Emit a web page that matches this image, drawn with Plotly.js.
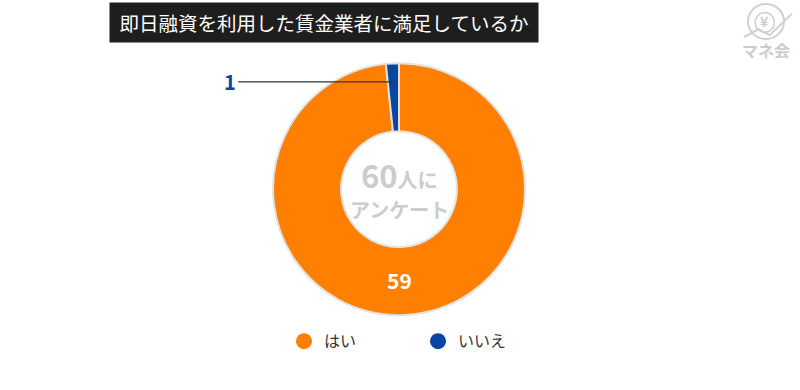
<!DOCTYPE html>
<html><head><meta charset="utf-8">
<script src="https://cdn.plot.ly/plotly-3.0.1.min.js"></script>
<style>html,body{margin:0;padding:0;background:#fff}#chart{width:800px;height:390px}</style>
</head><body><div id="chart"></div>
<script>
const titleText = '即日融資を利用した賃金業者に満足しているか';
const categories = ['はい', 'いいえ'];
const values = [59, 1];
const colors = ['#ff7f00', '#0b45a3'];
const totalLabel = '60';
const F = '"Noto Sans CJK JP", "Noto Sans", sans-serif';

const pie = {
  type: 'pie', labels: categories, values: values, sort: false, direction: 'clockwise', rotation: 0,
  hole: 0.46, textinfo: 'none', showlegend: false, hoverinfo: 'label+value',
  marker: {colors: colors, line: {color: '#e2e2e2', width: 2}},
  domain: {x: [0.25, 0.7475], y: [0.192, 0.838]}
};
const legendTraces = categories.map((c, i) => ({
  type: 'scatter', mode: 'markers', x: [null], y: [null], name: c, showlegend: true,
  marker: {color: colors[i], size: 22, symbol: 'circle'}, hoverinfo: 'skip'
}));

const layout = {
  width: 800, height: 390, margin: {l: 0, r: 0, t: 0, b: 0},
  paper_bgcolor: '#fff', plot_bgcolor: '#fff',
  font: {family: F, color: '#333'},
  xaxis: {visible: false}, yaxis: {visible: false},
  showlegend: true,
  legend: {orientation: 'h', x: 0.355, xanchor: 'left', y: 0.125, yanchor: 'middle',
    font: {size: 16, color: '#333', family: F}, entrywidth: 89, entrywidthmode: 'pixels',
    itemsizing: 'trace', bgcolor: 'rgba(0,0,0,0)'},
  annotations: [
    {text: titleText, x: 0.405, y: 0.9423, xref: 'paper', yref: 'paper', xanchor: 'center', yanchor: 'middle',
     showarrow: false, font: {size: 19.5, color: '#fff', family: F}, bgcolor: '#1e1e1e', borderpad: 0,
     width: 428, height: 39},
    {text: '<b><span style="font-size:31px">' + totalLabel + '</span>人に</b>',
     x: 0.49875, y: 0.552, xref: 'paper', yref: 'paper', xanchor: 'center', yanchor: 'middle', showarrow: false,
     font: {size: 20, color: '#cccccc', family: F}},
    {text: '<b>アンケート</b>',
     x: 0.49875, y: 0.462, xref: 'paper', yref: 'paper', xanchor: 'center', yanchor: 'middle', showarrow: false,
     font: {size: 20, color: '#cccccc', family: F}},
    {text: '<b>' + values[0] + '</b>', x: 0.49875, y: 0.282, xref: 'paper', yref: 'paper',
     xanchor: 'center', yanchor: 'middle', showarrow: false,
     font: {size: 21, color: '#fff', family: F}},
    {text: '<b>' + values[1] + '</b>', x: 0.4915, y: 0.79, xref: 'paper', yref: 'paper',
     showarrow: true, arrowhead: 0, arrowwidth: 1.3, arrowcolor: '#333', ax: -155, ay: 0,
     xanchor: 'right', yanchor: 'middle', font: {size: 20, color: '#0b45a3', family: F}},
    {text: '<b>マネ会</b>', x: 0.9575, y: 0.872, xref: 'paper', yref: 'paper', xanchor: 'center', yanchor: 'middle',
     showarrow: false, font: {size: 16, color: '#cccccc', family: F}},
    {text: '<b>¥</b>', x: 0.956, y: 0.945, xref: 'paper', yref: 'paper', xanchor: 'center', yanchor: 'middle',
     showarrow: false, font: {size: 14, color: '#cccccc', family: F}}
  ],
  shapes: [
    {type: 'circle', xref: 'paper', yref: 'paper', x0: 0.935, x1: 0.98, y0: 0.9, y1: 0.99,
     line: {color: '#d0d0d0', width: 2}},
    {type: 'circle', xref: 'paper', yref: 'paper', x0: 0.944, x1: 0.968, y0: 0.917, y1: 0.968,
     line: {color: '#d0d0d0', width: 1.5}},
    {type: 'path', xref: 'paper', yref: 'paper', path: 'M 0.93 0.905 L 0.948 0.925 L 0.962 0.91 L 0.99 0.965',
     line: {color: '#d0d0d0', width: 2}, fillcolor: 'rgba(0,0,0,0)'}
  ]
};
Plotly.newPlot('chart', [pie].concat(legendTraces), layout, {displayModeBar: false, staticPlot: true});
</script></body></html>
